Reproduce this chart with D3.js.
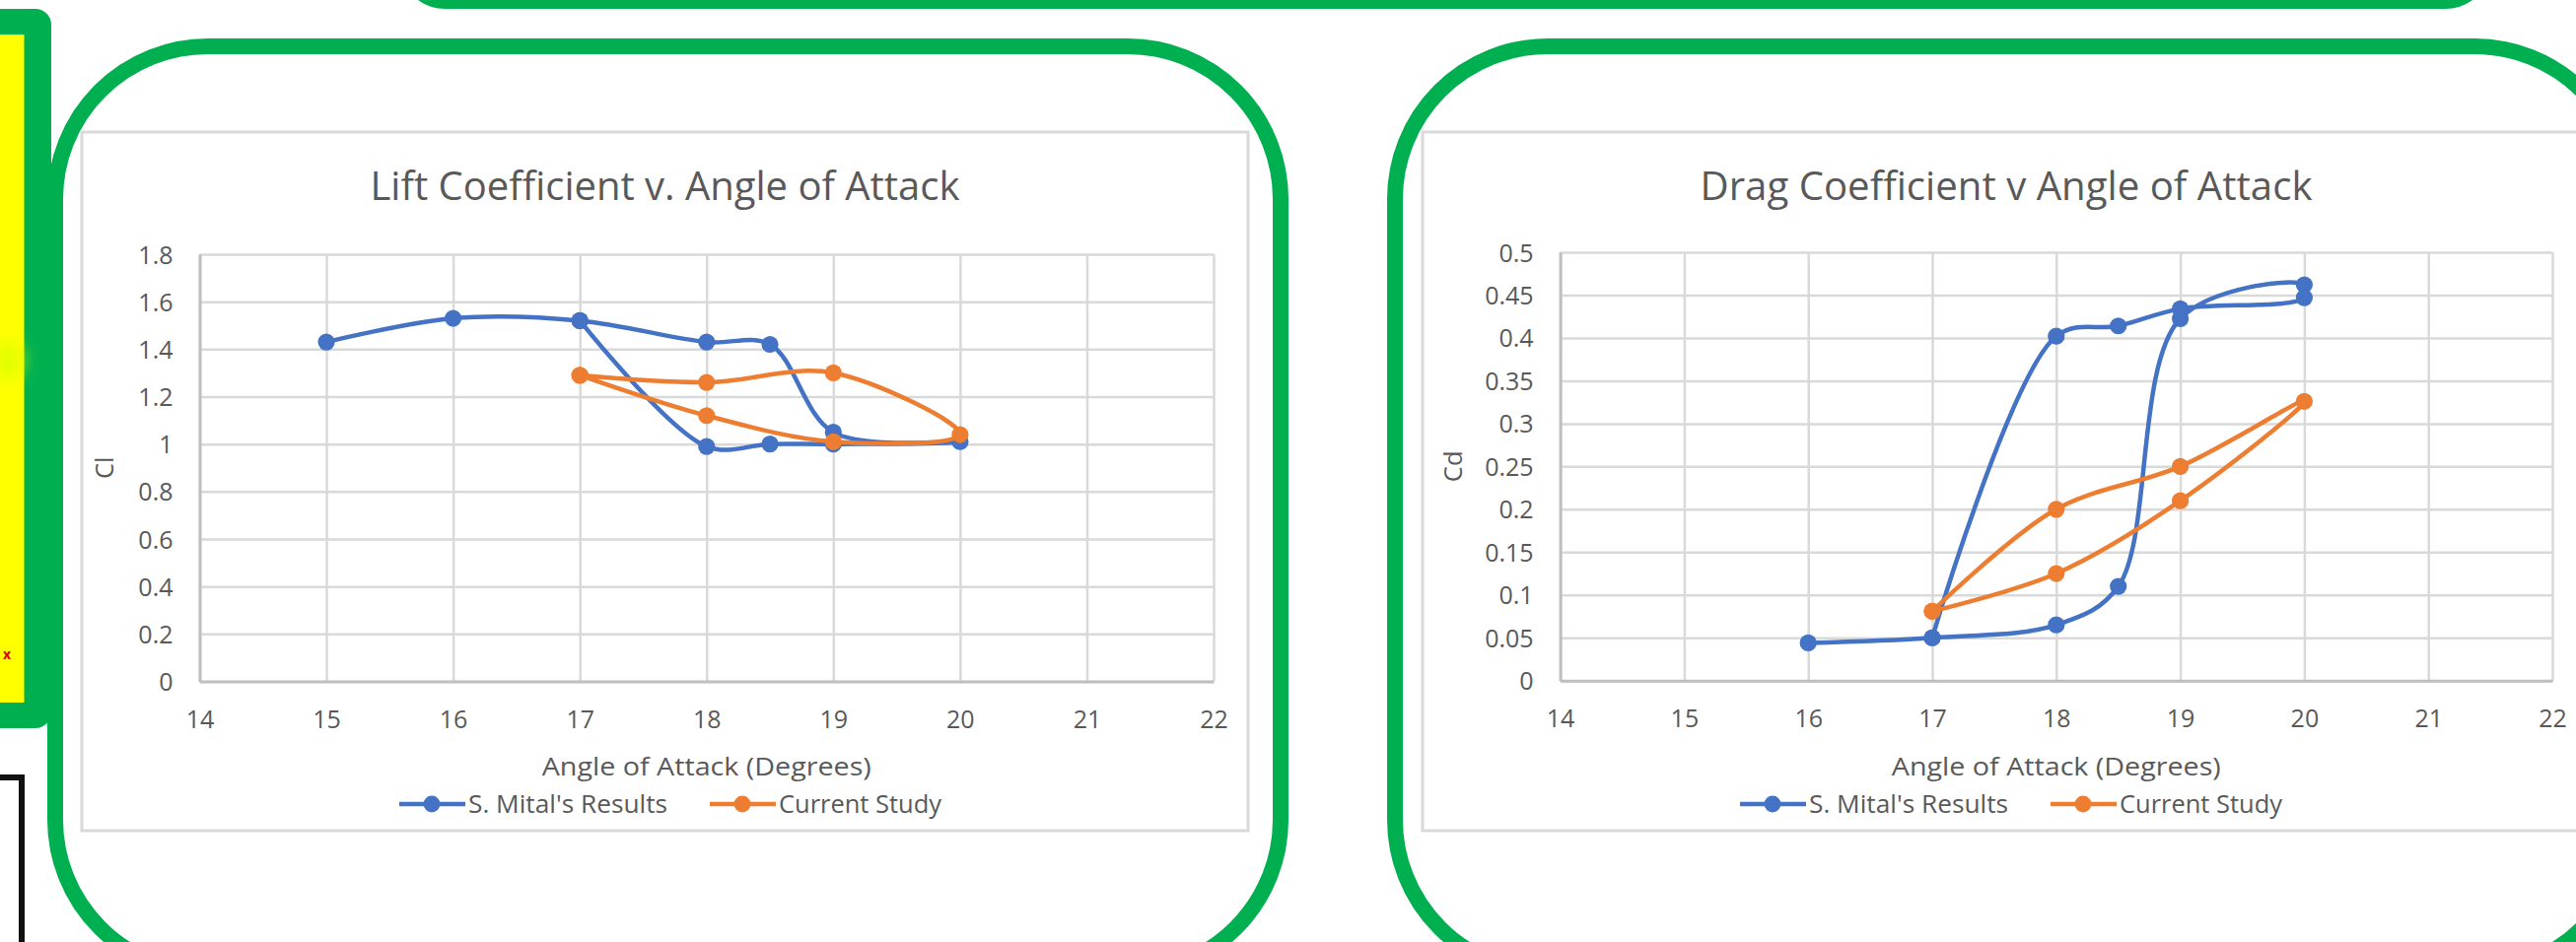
<!DOCTYPE html>
<html>
<head>
<meta charset="utf-8">
<title>Lift and Drag Coefficient v. Angle of Attack</title>
<script src="https://cdn.jsdelivr.net/npm/d3@7"></script>
<style>
  html, body { margin: 0; padding: 0; background: #ffffff; }
  svg { display: block; }
  text { font-family: "Open Sans", "Noto Sans", sans-serif; fill: #595959; }
</style>
</head>
<body>
<svg id="chart" width="2613" height="956"></svg>
<script>
// ---- Data -------------------------------------------------------------
const angleTicks = [14, 15, 16, 17, 18, 19, 20, 21, 22];
const liftTicks = [0, 0.2, 0.4, 0.6, 0.8, 1, 1.2, 1.4, 1.6, 1.8];
const dragTicks = [0, 0.05, 0.1, 0.15, 0.2, 0.25, 0.3, 0.35, 0.4, 0.45, 0.5];

const seriesNames = ["S. Mital's Results", "Current Study"];

// Lift coefficient: increasing angle branch, then decreasing branch (hysteresis loop)
const mitalLiftAngle = [15, 16, 17, 18, 18.5, 19, 20, 19, 18.5, 18, 17];
const mitalLift      = [1.43, 1.53, 1.52, 1.43, 1.42, 1.05, 1.01, 1.00, 1.00, 0.99, 1.52];
const studyLiftAngle = [17, 18, 19, 20, 19, 18, 17];
const studyLift      = [1.29, 1.26, 1.30, 1.04, 1.01, 1.12, 1.29];

// Drag coefficient
const mitalDragAngle = [16, 17, 18, 18.5, 19, 20, 20, 19, 18.5, 18, 17];
const mitalDrag      = [0.044, 0.05, 0.065, 0.11, 0.4225, 0.462, 0.447, 0.434, 0.414, 0.402, 0.05];
const studyDragAngle = [17, 18, 19, 20, 19, 18, 17];
const studyDrag      = [0.081, 0.125, 0.21, 0.326, 0.25, 0.20, 0.081];

const colors = ["#4472C4", "#ED7D31"];

// ---- Page frame -------------------------------------------------------
const svg = d3.select("#chart");
svg.append("rect").attr("width", 2613).attr("height", 956).attr("fill", "#ffffff");

const defs = svg.append("defs");
defs.append("filter").attr("id", "soft")
  .attr("x", "-100%").attr("y", "-100%").attr("width", "300%").attr("height", "300%")
  .append("feGaussianBlur").attr("stdDeviation", 8);

const GREEN = "#00B050";
const deco = svg.append("g").attr("class", "frames");

// top panel (only its lower edge is in view)
deco.append("rect")
  .attr("x", 412).attr("y", -300).attr("width", 2108).attr("height", 301)
  .attr("rx", 40).attr("ry", 40)
  .attr("fill", "none").attr("stroke", GREEN).attr("stroke-width", 16);

// left side panel
deco.append("rect")
  .attr("x", -30).attr("y", 9).attr("width", 82).attr("height", 730)
  .attr("rx", 16).attr("ry", 16).attr("fill", GREEN);
deco.append("rect")
  .attr("x", -5).attr("y", 35).attr("width", 29.5).attr("height", 678)
  .attr("fill", "#FFFF00");
deco.append("ellipse")
  .attr("cx", 8).attr("cy", 366).attr("rx", 16).attr("ry", 20)
  .attr("fill", "#D8FF00").attr("opacity", 0.7)
  .attr("filter", "url(#soft)");
deco.append("text")
  .attr("x", 7).attr("y", 669).attr("text-anchor", "middle")
  .style("font-size", "14px").style("fill", "#E00000").style("font-weight", 700)
  .text("x");

// black outline at the lower left
deco.append("path")
  .attr("d", "M0,789 L22,789 L22,962")
  .attr("fill", "none").attr("stroke", "#111111").attr("stroke-width", 6);

// rounded green panels around each chart
deco.append("rect")
  .attr("x", 56).attr("y", 47).attr("width", 1243).attr("height", 940)
  .attr("rx", 155).attr("ry", 155)
  .attr("fill", "#ffffff").attr("stroke", GREEN).attr("stroke-width", 16);
deco.append("rect")
  .attr("x", 1415).attr("y", 47).attr("width", 1250).attr("height", 940)
  .attr("rx", 155).attr("ry", 155)
  .attr("fill", "#ffffff").attr("stroke", GREEN).attr("stroke-width", 16);

// ---- Chart drawing ----------------------------------------------------
function drawChart(cfg) {
  const g = svg.append("g");

  // chart area
  g.append("rect")
    .attr("x", cfg.area[0]).attr("y", cfg.area[1])
    .attr("width", cfg.area[2] - cfg.area[0]).attr("height", cfg.area[3] - cfg.area[1])
    .attr("fill", "#ffffff").attr("stroke", "#D9D9D9").attr("stroke-width", 3);

  const x = d3.scaleLinear().domain([14, 22]).range([cfg.plot[0], cfg.plot[2]]);
  const y = d3.scaleLinear().domain([0, cfg.yTicks[cfg.yTicks.length - 1]])
    .range([cfg.plot[3], cfg.plot[1]]);
  const plotH = cfg.plot[3] - cfg.plot[1];
  const plotW = cfg.plot[2] - cfg.plot[0];

  // gridlines
  g.append("g")
    .attr("transform", `translate(0,${cfg.plot[3]})`)
    .call(d3.axisBottom(x).tickValues(angleTicks).tickSize(-plotH).tickFormat(""))
    .call(s => s.select(".domain").remove())
    .call(s => s.selectAll("line").attr("stroke", "#D9D9D9").attr("stroke-width", 2.5));
  g.append("g")
    .attr("transform", `translate(${cfg.plot[0]},0)`)
    .call(d3.axisLeft(y).tickValues(cfg.yTicks).tickSize(-plotW).tickFormat(""))
    .call(s => s.select(".domain").remove())
    .call(s => s.selectAll("line").attr("stroke", "#D9D9D9").attr("stroke-width", 2.5));

  const fmt = d => String(+d.toFixed(2));

  // x axis
  g.append("g")
    .attr("transform", `translate(0,${cfg.plot[3]})`)
    .call(d3.axisBottom(x).tickValues(angleTicks).tickSize(0).tickPadding(30).tickFormat(fmt))
    .call(s => s.select(".domain").attr("stroke", "#BFBFBF").attr("stroke-width", 3))
    .call(s => s.selectAll("text")
      .style("font-size", "25px").style("fill", "#595959")
      .style("font-family", '"Open Sans", "Noto Sans", sans-serif'));

  // y axis
  g.append("g")
    .attr("transform", `translate(${cfg.plot[0]},0)`)
    .call(d3.axisLeft(y).tickValues(cfg.yTicks).tickSize(0).tickPadding(27).tickFormat(fmt))
    .call(s => s.select(".domain").attr("stroke", "#BFBFBF").attr("stroke-width", 3))
    .call(s => s.selectAll("text")
      .attr("dy", "0.36em")
      .style("font-size", "25px").style("fill", "#595959")
      .style("font-family", '"Open Sans", "Noto Sans", sans-serif'));

  // title
  g.append("text")
    .attr("x", cfg.titleX).attr("y", 203)
    .attr("text-anchor", "middle")
    .attr("textLength", cfg.titleW).attr("lengthAdjust", "spacingAndGlyphs")
    .style("font-size", "41px")
    .text(cfg.title);

  // axis titles
  const cx = (cfg.plot[0] + cfg.plot[2]) / 2;
  g.append("text")
    .attr("x", cx).attr("y", 787)
    .attr("text-anchor", "middle")
    .attr("textLength", 334).attr("lengthAdjust", "spacingAndGlyphs")
    .style("font-size", "25.5px")
    .text("Angle of Attack (Degrees)");
  g.append("text")
    .attr("transform", `translate(${cfg.yTitleX},${(cfg.plot[1] + cfg.plot[3]) / 2}) rotate(-90)`)
    .attr("text-anchor", "middle")
    .attr("dy", "0.35em")
    .style("font-size", "25.5px")
    .text(cfg.yTitle);

  // series
  const line = d3.line()
    .x(d => x(d[0])).y(d => y(d[1]))
    .curve(d3.curveCatmullRom.alpha(0.5));

  cfg.series.forEach((s, i) => {
    const pts = s.angle.map((a, k) => [a, s.value[k]]);
    const sg = g.append("g");
    sg.append("path")
      .attr("d", line(pts))
      .attr("fill", "none").attr("stroke", colors[i])
      .attr("stroke-width", 4.5).attr("stroke-linejoin", "round").attr("stroke-linecap", "round");
    sg.selectAll("circle").data(pts).join("circle")
      .attr("cx", d => x(d[0])).attr("cy", d => y(d[1]))
      .attr("r", 8.6).attr("fill", colors[i]);
  });

  // legend
  const legendOffsets = [322, 637];
  const legendWidths = [202, 165];
  seriesNames.forEach((name, i) => {
    const lx = cfg.area[0] + legendOffsets[i];
    const lg = g.append("g");
    lg.append("line")
      .attr("x1", lx).attr("x2", lx + 67).attr("y1", 816).attr("y2", 816)
      .attr("stroke", colors[i]).attr("stroke-width", 4.5);
    lg.append("circle")
      .attr("cx", lx + 33).attr("cy", 816).attr("r", 8.4).attr("fill", colors[i]);
    lg.append("text")
      .attr("x", lx + 70).attr("y", 825)
      .attr("textLength", legendWidths[i]).attr("lengthAdjust", "spacingAndGlyphs")
      .style("font-size", "25.5px")
      .text(name);
  });
}

drawChart({
  area: [83, 134, 1266, 843],
  plot: [202.5, 258, 1231, 691.5],
  yTicks: liftTicks,
  title: "Lift Coefficient v. Angle of Attack",
  titleX: 674.5, titleW: 598,
  yTitle: "Cl", yTitleX: 106,
  series: [
    { angle: mitalLiftAngle, value: mitalLift },
    { angle: studyLiftAngle, value: studyLift }
  ]
});

drawChart({
  area: [1443, 134, 2627, 843],
  plot: [1582.6, 256, 2589, 690.7],
  yTicks: dragTicks,
  title: "Drag Coefficient v Angle of Attack",
  titleX: 2035, titleW: 621,
  yTitle: "Cd", yTitleX: 1474,
  series: [
    { angle: mitalDragAngle, value: mitalDrag },
    { angle: studyDragAngle, value: studyDrag }
  ]
});
</script>
</body>
</html>
